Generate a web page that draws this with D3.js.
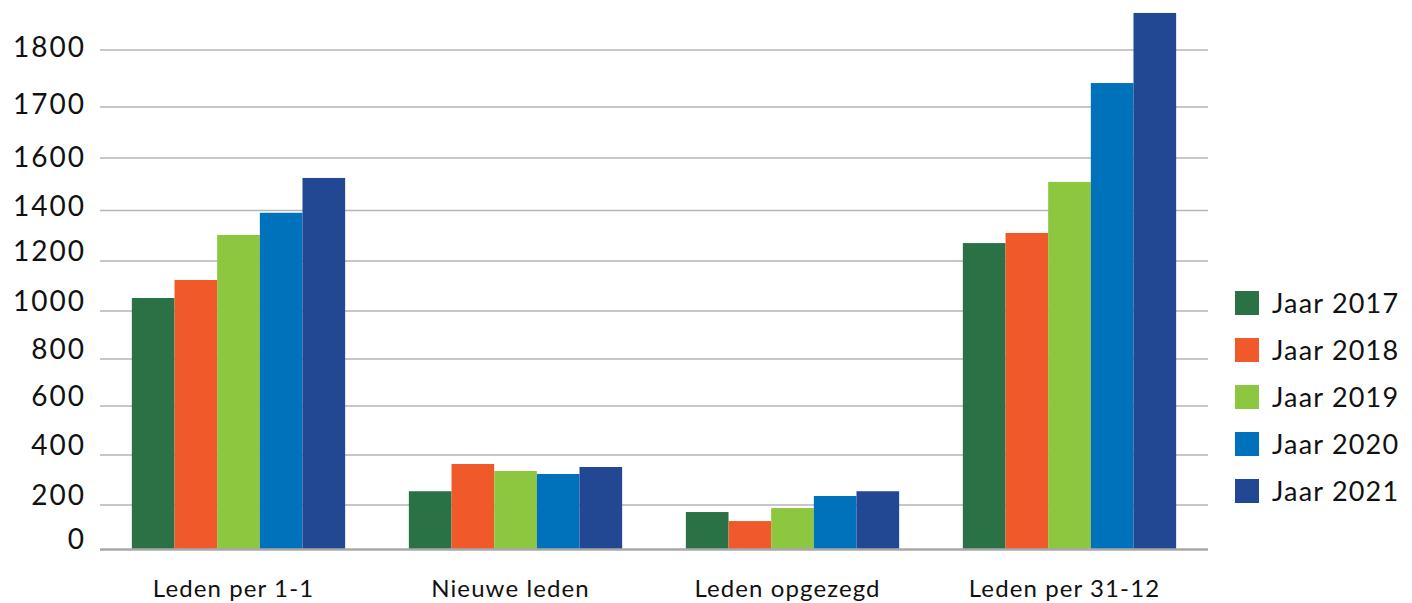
<!DOCTYPE html>
<html>
<head>
<meta charset="utf-8">
<script src="https://cdn.jsdelivr.net/npm/d3@7"></script>
<style>
  html, body { margin: 0; padding: 0; background: #fff; }
  text { font-family: Lato, "Noto Sans", sans-serif; fill: #111; }
</style>
</head>
<body>
<div id="chart"></div>
<script>
// categories along the x axis
var categories = ["Leden per 1-1", "Nieuwe leden", "Leden opgezegd", "Leden per 31-12"];
// one series per year
var series = ["Jaar 2017", "Jaar 2018", "Jaar 2019", "Jaar 2020", "Jaar 2021"];
var colors = ["#2a7245", "#f05a2b", "#8dc63f", "#0071bb", "#234893"];
// values per year, in the order of the categories
var jaar2017 = [1052, 255, 168, 1271];
var jaar2018 = [1124, 364, 127, 1311];
var jaar2019 = [1303, 336, 186, 1509];
var jaar2020 = [1391, 324, 236, 1742];
var jaar2021 = [1524, 352, 255, 1865];
var values = [jaar2017, jaar2018, jaar2019, jaar2020, jaar2021];
// the tick labels on the y axis (the original axis is not evenly spaced)
var yTicks = [0, 200, 400, 600, 800, 1000, 1200, 1400, 1600, 1700, 1800];

var width = 1412, height = 603;
var plot = {left: 100, right: 1208, bottom: 549};

/* y is piecewise: each labelled gridline gets its own spot, as in the picture */
var yRange = [549, 505, 455, 406, 359, 311, 261, 210.5, 158, 107, 50];
var y = d3.scaleLinear().domain(yTicks).range(yRange);

/* the labels do not sit exactly on their gridlines in the original */
function labelShift(d) {
  if (d >= 1700) return -2;
  if (d === 1600) return 0;
  if (d === 1400) return -4;
  return -9;
}

var x0 = d3.scaleBand()
    .domain(categories)
    .range([plot.left, plot.right])
    .paddingInner(0.23)
    .paddingOuter(0.115);
var x1 = d3.scaleBand()
    .domain(series)
    .range([0, x0.bandwidth()]);

var svg = d3.select("#chart").append("svg")
    .attr("width", width)
    .attr("height", height);

/* gridlines */
svg.append("g")
  .selectAll("line")
  .data(yTicks.slice(1))
  .enter()
  .append("line")
  .attr("x1", plot.left)
  .attr("x2", plot.right)
  .attr("y1", function (d) { return y(d); })
  .attr("y2", function (d) { return y(d); })
  .attr("stroke", "#b4b4b4")
  .attr("stroke-width", 1.5);

/* y axis labels */
var yAxis = d3.axisLeft(y).tickValues(yTicks).tickSize(0).tickPadding(0)
    .tickFormat(function (d) { return String(d); });
var gy = svg.append("g")
    .attr("transform", "translate(" + 86 + ",0)")
    .call(yAxis);
gy.select(".domain").remove();
gy.selectAll("text")
    .attr("dy", "0.32em")
    .attr("y", function (d) { return labelShift(d); })
    .style("font-size", "28px")
    .style("letter-spacing", "2px")
    .style("fill", "#111");

/* bars */
var groups = svg.append("g")
  .selectAll("g")
  .data(categories)
  .enter()
  .append("g")
  .attr("transform", function (d) { return "translate(" + x0(d) + ",0)"; });

groups.selectAll("rect")
  .data(function (c, i) {
    return series.map(function (s, j) {
      return {series: s, value: values[j][i], color: colors[j]};
    });
  })
  .enter()
  .append("rect")
  .attr("x", function (d) { return x1(d.series); })
  .attr("width", x1.bandwidth())
  .attr("y", function (d) { return y(d.value); })
  .attr("height", function (d) { return y(0) - y(d.value); })
  .attr("fill", function (d) { return d.color; });

/* baseline */
svg.append("line")
  .attr("x1", plot.left)
  .attr("x2", plot.right)
  .attr("y1", y(0) + 0.5)
  .attr("y2", y(0) + 0.5)
  .attr("stroke", "#a8a8a8")
  .attr("stroke-width", 2.5);

/* x axis labels */
var xAxis = d3.axisBottom(x0).tickSize(0).tickPadding(0);
var gx = svg.append("g")
    .attr("transform", "translate(0," + 597 + ")")
    .call(xAxis);
gx.select(".domain").remove();
gx.selectAll("text")
    .attr("dy", 0)
    .attr("y", 0)
    .attr("x", -5)
    .style("font-size", "24px")
    .style("letter-spacing", "1.1px")
    .style("fill", "#111");

/* legend */
var legend = svg.append("g")
    .attr("transform", "translate(1235,291)");
var item = legend.selectAll("g")
  .data(series)
  .enter()
  .append("g")
  .attr("transform", function (d, i) { return "translate(0," + i * 47 + ")"; });
item.append("rect")
  .attr("width", 24)
  .attr("height", 24)
  .attr("fill", function (d, i) { return colors[i]; });
item.append("text")
  .attr("x", 37)
  .attr("y", 13)
  .attr("dy", "0.35em")
  .style("font-size", "27px")
  .style("letter-spacing", "1.2px")
  .text(function (d) { return d; });
</script>
</body>
</html>
